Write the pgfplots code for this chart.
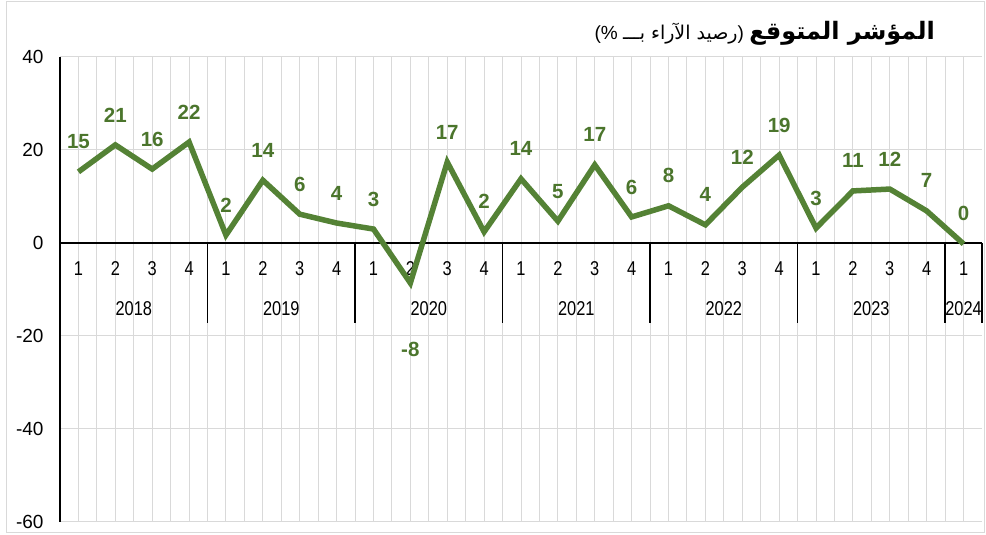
\documentclass[border=0pt]{standalone}
\usepackage{pgfplots}
\pgfplotsset{compat=1.18}
\usepackage{pgfplotstable}
\usepackage{fontspec}
\setmainfont{Liberation Sans}
\newfontfamily\narrowfont[FakeStretch=0.82]{Liberation Sans}
\newfontfamily\arabicfont[Script=Arabic]{DejaVu Sans}
\TeXXeTstate=1
\definecolor{linegreen}{HTML}{548235}
\definecolor{labelgreen}{HTML}{4B752C}
\definecolor{gridgray}{HTML}{D9D9D9}

\pgfplotstableread{
x y lab
1 15.3 15
2 21.1 21
3 15.9 16
4 21.7 22
5 1.7 2
6 13.5 14
7 6.2 6
8 4.3 4
9 3.0 3
10 -8.6 {}
11 17.4 17
12 2.4 2
13 13.8 14
14 4.7 5
15 16.8 17
16 5.6 6
17 8.0 8
18 3.9 4
19 12.0 12
20 18.9 19
21 3.2 3
22 11.2 11
23 11.6 12
24 6.9 7
25 -0.2 0
}\datatable

\begin{document}
\begin{tikzpicture}
\begin{axis}[
    at={(0pt,0pt)}, anchor=south west,
    scale only axis, width=922pt, height=465pt,
    xmin=0.5, xmax=25.5, ymin=-60, ymax=40,
    axis x line=middle, axis y line=left,
    axis line style={-, black, line width=1.6pt},
    clip=false,
    xtick={1,...,25},
    xticklabels={1,2,3,4,1,2,3,4,1,2,3,4,1,2,3,4,1,2,3,4,1,2,3,4,1},
    minor x tick num=1,
    ytick={-60,-40,-20,0,20,40},
    yticklabels={{-60},{-40},{-20},{0},{20},{40}},
    major tick length=0pt, minor tick length=0pt,
    xmajorgrids, xminorgrids, ymajorgrids,
    grid style={gridgray, line width=1pt},
    minor grid style={gridgray, line width=1pt},
    xticklabel style={font=\narrowfont\fontsize{20}{20}\selectfont, anchor=center, yshift=-26pt},
    yticklabel style={font=\fontsize{19}{19}\selectfont, anchor=east, xshift=-13pt},
]
\addplot[linegreen, line width=5.5pt, nodes near coords, point meta=explicit symbolic,
    every node near coord/.append style={font=\bfseries\fontsize{20.5}{20.5}\selectfont,
      text=labelgreen, anchor=center, yshift=30pt}]
    table[x=x, y=y, meta=lab] {\datatable};
\addplot[draw=none, nodes near coords, point meta=explicit symbolic,
    every node near coord/.append style={font=\bfseries\fontsize{20.5}{20.5}\selectfont,
      text=labelgreen, anchor=center, yshift=-66pt}]
    coordinates {(10,-8.6) [-8]};
% year separators
\pgfplotsinvokeforeach{0.5,4.5,8.5,12.5,16.5,20.5,24.5,25.5}{
  \draw[black, line width=1.6pt] (axis cs:#1,0) -- (axis cs:#1,-17.2);
}
\node[font=\narrowfont\fontsize{20}{20}\selectfont] at (axis cs:2.5,-14.2) {2018};
\node[font=\narrowfont\fontsize{20}{20}\selectfont] at (axis cs:6.5,-14.2) {2019};
\node[font=\narrowfont\fontsize{20}{20}\selectfont] at (axis cs:10.5,-14.2) {2020};
\node[font=\narrowfont\fontsize{20}{20}\selectfont] at (axis cs:14.5,-14.2) {2021};
\node[font=\narrowfont\fontsize{20}{20}\selectfont] at (axis cs:18.5,-14.2) {2022};
\node[font=\narrowfont\fontsize{20}{20}\selectfont] at (axis cs:22.5,-14.2) {2023};
\node[font=\narrowfont\fontsize{20}{20}\selectfont] at (axis cs:25,-14.2) {2024};
\end{axis}
\node[anchor=east, inner sep=0pt] at (875pt,489pt)
  {\fontsize{19}{19}\selectfont (\%\ {\arabicfont\beginR رصيد الآراء بـــ\endR})\
   {\fontsize{24}{24}\selectfont\arabicfont\bfseries\beginR المؤشر المتوقع\endR}};
\draw[gridgray, line width=1pt] (-53pt,-11pt) rectangle (924pt,520pt);
\pgfresetboundingbox
\path[use as bounding box] (-60pt,-13pt) rectangle (926pt,522pt);
\end{tikzpicture}
\end{document}
